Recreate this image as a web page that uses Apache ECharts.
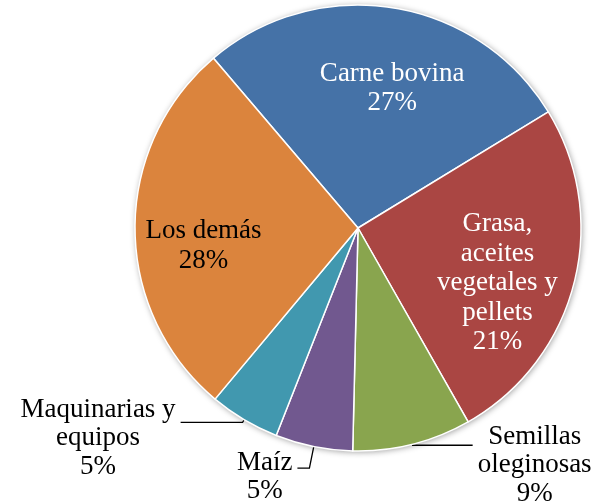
<!DOCTYPE html>
<html>
<head>
<meta charset="utf-8">
<script src="https://cdn.jsdelivr.net/npm/echarts@6/dist/echarts.min.js"></script>
<style>
  html, body { margin: 0; padding: 0; background: #fff; }
  #chart { width: 601px; height: 501px; }
</style>
</head>
<body>
<div id="chart"></div>
<script>
// slices, clockwise from the top-left
const categories = ['Carne bovina', 'Grasa,\naceites\nvegetales y\npellets', 'Semillas\noleginosas', 'Maíz', 'Maquinarias y\nequipos', 'Los demás']
const shares = [27.5, 25.5, 8.6, 5.6, 5.1, 27.7] // angle each slice takes
const pctLabels = ['27%', '21%', '9%', '5%', '5%', '28%'] // what the labels say

const colors = ['#4572A7', '#AA4643', '#89A54E', '#71588F', '#4198AF', '#DB843D']
const font = "'Liberation Serif', 'Times New Roman', serif"
const center = [358, 228]
const R = 223
const startAngle = 130.4

// label placement per slice
const inside = [true, true, false, false, false, true]
const insideColor = ['#fff', '#fff', null, null, null, '#000']
const insideShift = [[9, 18], [-15, 15], null, null, null, [5, 17]]
const outsideLine = [null, null,
  { length: 1, length2: 60, pad: 40 },
  { length: 22, length2: 12, pad: 18 },
  { length: 3, length2: 62, pad: 32 },
  null]

function lines(i) {
  return categories[i].split('\n').concat(pctLabels[i])
}

const chart = echarts.init(document.getElementById('chart'))
const option = {
  animation: false,
  series: [
    {
      // soft shadow under the whole pie
      type: 'pie',
      silent: true,
      center: center,
      radius: R,
      label: { show: false },
      labelLine: { show: false },
      itemStyle: {
        color: '#fff',
        shadowBlur: 6,
        shadowColor: 'rgba(0,0,0,0.4)',
        shadowOffsetX: 1,
        shadowOffsetY: 1
      },
      data: [{ value: 1, name: 'bg' }]
    },
    {
      type: 'pie',
      silent: true,
      center: center,
      radius: R,
      startAngle: startAngle,
      clockwise: true,
      avoidLabelOverlap: false,
      itemStyle: { borderColor: '#fff', borderWidth: 1.5 },
      data: shares.map((v, i) => {
        const item = { name: categories[i], value: v, itemStyle: { color: colors[i] } }
        if (inside[i]) {
          item.label = { show: false }
          item.labelLine = { show: false }
        } else {
          const o = outsideLine[i]
          item.label = {
            show: true,
            position: 'outside',
            padding: [o.pad, 0, 0, 0],
            formatter: () => lines(i).map(s => '{t|' + s + '}').join('\n'),
            rich: {
              t: { fontFamily: font, fontSize: 27, lineHeight: 28.5, align: 'center', color: '#000' }
            }
          }
          item.labelLine = {
            show: true,
            length: o.length,
            length2: o.length2,
            lineStyle: { color: '#000', width: 1.3 }
          }
        }
        return item
      })
    },
    {
      // transparent ring only used to place the inner labels further out
      type: 'pie',
      silent: true,
      center: center,
      radius: [90, R],
      startAngle: startAngle,
      clockwise: true,
      avoidLabelOverlap: false,
      itemStyle: { color: 'rgba(0,0,0,0)', borderWidth: 0 },
      labelLine: { show: false },
      data: shares.map((v, i) => ({
        name: categories[i],
        value: v,
        label: inside[i] ? {
          show: true,
          position: 'inside',
          offset: insideShift[i],
          formatter: () => lines(i).join('\n'),
          color: insideColor[i],
          textBorderWidth: 0,
          fontFamily: font,
          fontSize: 27,
          lineHeight: 29.5,
          align: 'center'
        } : { show: false }
      }))
    }
  ]
}
chart.setOption(option)
</script>
</body>
</html>
